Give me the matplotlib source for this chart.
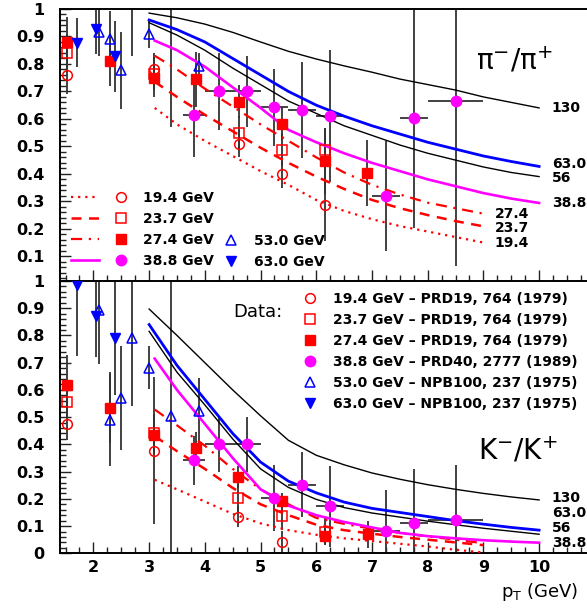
import matplotlib.pyplot as plt
from matplotlib.legend_handler import HandlerTuple
from matplotlib.ticker import MultipleLocator, FormatStrFormatter

plt.rcParams['font.family'] = 'DejaVu Sans'

# ---------------- pi-/pi+ data points ----------------
pi_x_194 = [1.53, 3.08, 4.61, 5.38, 6.15]
pi_y_194 = [0.76, 0.78, 0.51, 0.40, 0.285]
pi_e_194 = [0.07, 0.06, 0.05, 0.05, 0.13]

pi_x_237 = [1.53, 3.08, 4.61, 5.38, 6.15]
pi_y_237 = [0.84, 0.765, 0.55, 0.488, 0.486]
pi_e_237 = [0.07, 0.06, 0.06, 0.06, 0.08]

pi_x_274 = [1.53, 2.30, 3.08, 3.85, 4.61, 5.38, 6.15, 6.91]
pi_y_274 = [0.88, 0.81, 0.75, 0.745, 0.662, 0.582, 0.448, 0.403]
pi_e_274 = [0.09, 0.09, 0.07, 0.10, 0.06, 0.06, 0.12, 0.12]

pi_x_388 = [3.8, 4.25, 4.75, 5.25, 5.75, 6.25, 7.25, 7.75, 8.5]
pi_y_388 = [0.613, 0.70, 0.70, 0.642, 0.632, 0.612, 0.321, 0.602, 0.664]
pi_e_388 = [0.15, 0.14, 0.13, 0.14, 0.175, 0.24, 0.20, 0.40, 0.60]
pi_xe_388 = [0.2, 0.25, 0.25, 0.25, 0.25, 0.25, 0.25, 0.25, 0.5]

pi_x_530 = [2.10, 2.29, 2.50, 2.70, 3.0, 3.40, 3.89]
pi_y_530 = [0.918, 0.892, 0.777, 1.05, 0.909, 1.10, 0.791]
pi_e_530 = [0.09, 0.10, 0.14, 0.22, 0.05, 0.53, 0.05]

pi_x_630 = [1.70, 2.04, 2.39]
pi_y_630 = [0.878, 0.928, 0.828]
pi_e_630 = [0.09, 0.09, 0.13]

# ---------------- K-/K+ data points ----------------
k_x_194 = [1.53, 3.08, 4.60, 5.38]
k_y_194 = [0.475, 0.376, 0.135, 0.043]
k_e_194 = [0.06, 0.27, 0.04, 0.04]

k_x_237 = [1.53, 3.08, 4.60, 5.38, 6.15]
k_y_237 = [0.557, 0.44, 0.203, 0.137, 0.08]
k_e_237 = [0.06, 0.07, 0.05, 0.05, 0.05]

k_x_274 = [1.53, 2.30, 3.08, 3.85, 4.60, 5.38, 6.15, 6.92]
k_y_274 = [0.618, 0.534, 0.436, 0.387, 0.279, 0.193, 0.063, 0.07]
k_e_274 = [0.11, 0.13, 0.07, 0.06, 0.04, 0.03, 0.03, 0.05]

k_x_388 = [3.8, 4.25, 4.75, 5.25, 5.75, 6.25, 7.25, 7.75, 8.5]
k_y_388 = [0.341, 0.40, 0.40, 0.203, 0.252, 0.172, 0.082, 0.11, 0.123]
k_e_388 = [0.09, 0.10, 0.10, 0.12, 0.12, 0.15, 0.15, 0.20, 0.20]
k_xe_388 = [0.2, 0.25, 0.25, 0.25, 0.25, 0.25, 0.25, 0.25, 0.5]

k_x_530 = [2.10, 2.30, 2.50, 2.70, 3.0, 3.40, 3.89]
k_y_530 = [0.894, 0.489, 0.571, 0.792, 0.682, 0.504, 0.522]
k_e_530 = [0.20, 0.17, 0.19, 0.25, 0.08, 0.60, 0.12]

k_x_630 = [1.70, 2.04, 2.39]
k_y_630 = [0.985, 0.87, 0.79]
k_e_630 = [0.26, 0.15, 0.21]

# ---------------- model curves ----------------
cx_full = [3.0, 3.5, 4.0, 4.5, 5.0, 5.5, 6.0, 6.5, 7.0, 7.5, 8.0, 8.5, 9.0, 9.5, 10.0]
cx_mag = [3.1, 3.5, 4.0, 4.5, 5.0, 5.5, 6.0, 6.5, 7.0, 7.5, 8.0, 8.5, 9.0, 9.5, 10.0]
cx_red = [3.1, 3.5, 4.0, 4.5, 5.0, 5.5, 6.0, 6.5, 7.0, 7.5, 8.0, 8.5, 9.0]

pi_c_130 = [0.985, 0.968, 0.945, 0.915, 0.88, 0.846, 0.818, 0.793, 0.77, 0.745, 0.725, 0.705, 0.68, 0.66, 0.64]
pi_c_630 = [0.96, 0.925, 0.88, 0.82, 0.76, 0.70, 0.65, 0.61, 0.575, 0.545, 0.515, 0.49, 0.465, 0.445, 0.427]
pi_c_56 = [0.95, 0.905, 0.85, 0.785, 0.725, 0.665, 0.62, 0.575, 0.54, 0.505, 0.475, 0.45, 0.425, 0.405, 0.39]
pi_c_388 = [0.885, 0.85, 0.79, 0.715, 0.64, 0.56, 0.515, 0.475, 0.44, 0.41, 0.38, 0.355, 0.33, 0.31, 0.294]
pi_c_274 = [0.83, 0.78, 0.71, 0.645, 0.58, 0.52, 0.46, 0.405, 0.36, 0.325, 0.295, 0.275, 0.255]
pi_c_237 = [0.735, 0.68, 0.615, 0.555, 0.495, 0.44, 0.39, 0.345, 0.305, 0.275, 0.25, 0.228, 0.209]
pi_c_194 = [0.64, 0.58, 0.52, 0.465, 0.41, 0.36, 0.305, 0.265, 0.235, 0.21, 0.19, 0.17, 0.15]

k_c_130 = [0.897, 0.80, 0.70, 0.60, 0.505, 0.415, 0.36, 0.325, 0.295, 0.272, 0.252, 0.235, 0.22, 0.207, 0.196]
k_c_630 = [0.84, 0.69, 0.565, 0.44, 0.335, 0.265, 0.222, 0.188, 0.165, 0.15, 0.135, 0.12, 0.107, 0.095, 0.085]
k_c_56 = [0.815, 0.665, 0.545, 0.42, 0.31, 0.242, 0.198, 0.168, 0.148, 0.133, 0.118, 0.105, 0.092, 0.081, 0.07]
k_c_388 = [0.715, 0.60, 0.475, 0.35, 0.235, 0.175, 0.14, 0.115, 0.095, 0.075, 0.063, 0.055, 0.048, 0.043, 0.039]
k_c_274 = [0.528, 0.47, 0.395, 0.31, 0.235, 0.18, 0.13, 0.108, 0.09, 0.075, 0.062, 0.05, 0.037]
k_c_237 = [0.43, 0.375, 0.31, 0.24, 0.18, 0.14, 0.105, 0.085, 0.072, 0.06, 0.05, 0.04, 0.03]
k_c_194 = [0.27, 0.235, 0.19, 0.145, 0.11, 0.085, 0.068, 0.055, 0.045, 0.035, 0.025, 0.013, 0.003]

energies = ['19.4', '23.7', '27.4', '38.8', '53.0', '63.0']
refs = ['PRD19, 764 (1979)', 'PRD19, 764 (1979)', 'PRD19, 764 (1979)',
        'PRD40, 2777 (1989)', 'NPB100, 237 (1975)', 'NPB100, 237 (1975)']

# marker styles per energy
mstyle = [dict(marker='o', mfc='none', mec='red', ms=7, mew=1.1),
          dict(marker='s', mfc='none', mec='red', ms=6.5, mew=1.1),
          dict(marker='s', mfc='red', mec='red', ms=6.5),
          dict(marker='o', mfc='magenta', mec='magenta', ms=7.5),
          dict(marker='^', mfc='none', mec='blue', ms=7.5, mew=1.1),
          dict(marker='v', mfc='blue', mec='blue', ms=7.5)]

W, H = 587, 611
fig = plt.figure(figsize=(W / 100, H / 100), dpi=100)
ax1 = fig.add_axes([60 / W, (H - 281) / H, 1 - 60 / W, 272 / H])
ax2 = fig.add_axes([60 / W, (H - 553.3) / H, 1 - 60 / W, 272.3 / H])

ecol = '#333333'


def draw_points(ax, sets):
    handles = []
    for (x, y, ye, xe), st in zip(sets, mstyle):
        ax.errorbar(x, y, yerr=ye, xerr=xe, fmt='none', ecolor=ecol,
                    elinewidth=1.3, capsize=0, zorder=2)
        h, = ax.plot(x, y, ls='none', zorder=4, **st)
        handles.append(h)
    return handles


def draw_curves(ax, c194, c237, c274, c388, c56, c630, c130):
    l194, = ax.plot(cx_red, c194, color='red', lw=1.6, ls=(0, (1, 2.2)), zorder=3)
    l237, = ax.plot(cx_red, c237, color='red', lw=1.8, ls=(0, (4, 3)), zorder=3)
    l274, = ax.plot(cx_red, c274, color='red', lw=1.6, ls=(0, (5, 3, 1, 3)), zorder=3)
    l388, = ax.plot(cx_mag, c388, color='magenta', lw=1.9, zorder=3)
    ax.plot(cx_full, c56, color='black', lw=1.0, zorder=3)
    ax.plot(cx_full, c630, color='blue', lw=2.0, zorder=3)
    ax.plot(cx_full, c130, color='black', lw=1.0, zorder=3)
    return [l194, l237, l274, l388]


pi_sets = [(pi_x_194, pi_y_194, pi_e_194, None),
           (pi_x_237, pi_y_237, pi_e_237, None),
           (pi_x_274, pi_y_274, pi_e_274, None),
           (pi_x_388, pi_y_388, pi_e_388, pi_xe_388),
           (pi_x_530, pi_y_530, pi_e_530, None),
           (pi_x_630, pi_y_630, pi_e_630, None)]
k_sets = [(k_x_194, k_y_194, k_e_194, None),
          (k_x_237, k_y_237, k_e_237, None),
          (k_x_274, k_y_274, k_e_274, None),
          (k_x_388, k_y_388, k_e_388, k_xe_388),
          (k_x_530, k_y_530, k_e_530, None),
          (k_x_630, k_y_630, k_e_630, None)]

pi_lines = draw_curves(ax1, pi_c_194, pi_c_237, pi_c_274, pi_c_388,
                       pi_c_56, pi_c_630, pi_c_130)
pi_marks = draw_points(ax1, pi_sets)
draw_curves(ax2, k_c_194, k_c_237, k_c_274, k_c_388, k_c_56, k_c_630, k_c_130)
k_marks = draw_points(ax2, k_sets)

# axes cosmetics
for ax, ylo in ((ax1, 0.01), (ax2, 0.0)):
    ax.set_xlim(1.4, 10.86)
    ax.set_ylim(ylo, 1.0)
    ax.xaxis.set_major_locator(MultipleLocator(1))
    ax.xaxis.set_minor_locator(MultipleLocator(0.25))
    ax.yaxis.set_major_locator(MultipleLocator(0.1))
    ax.yaxis.set_minor_locator(MultipleLocator(0.02))
    ax.yaxis.set_major_formatter(FormatStrFormatter('%g'))
    ax.tick_params(which='both', direction='in', top=False, right=False,
                   width=1.0, color='#222222')
    ax.tick_params(which='major', length=8)
    ax.tick_params(which='minor', length=4.5)
    ax.tick_params(axis='y', which='major', pad=11, labelsize=11.5)
    ax.tick_params(axis='x', which='major', pad=5, labelsize=11.5)
    for lab in ax.get_xticklabels() + ax.get_yticklabels():
        lab.set_fontweight('bold')
    ax.spines['right'].set_visible(False)
    for s in ('left', 'top', 'bottom'):
        ax.spines[s].set_linewidth(1.4)
    ax.set_facecolor('none')
ax1.tick_params(axis='x', labelbottom=False)
ax1.spines['bottom'].set_visible(False)

ax2.set_xlabel(r'p$_{\mathrm{T}}$ (GeV)', fontsize=13, ha='right', x=0.983,
               labelpad=4)

# curve labels
lab_kw = dict(fontsize=10, fontweight='bold', va='center', ha='left')
for txt, yv in (('130', pi_c_130[-1]), ('63.0', pi_c_630[-1] + 0.01),
                ('56', pi_c_56[-1] - 0.004), ('38.8', pi_c_388[-1])):
    ax1.text(10.23, yv, txt, **lab_kw)
for txt, yv in (('27.4', pi_c_274[-1]), ('23.7', pi_c_237[-1] - 0.005),
                ('19.4', pi_c_194[-1])):
    ax1.text(9.2, yv, txt, **lab_kw)
for txt, yv in (('130', 0.204), ('63.0', 0.149), ('56', 0.093), ('38.8', 0.038)):
    ax2.text(10.23, yv, txt, **lab_kw)

ax1.text(0.862, 0.812, r'π$^{-}$/π$^{+}$', transform=ax1.transAxes,
         fontsize=20, ha='center', va='center')
ax2.text(0.868, 0.378, r'K$^{-}$/K$^{+}$', transform=ax2.transAxes,
         fontsize=20, ha='center', va='center')

# legends in the upper panel
leg1 = ax1.legend([(l, m) for l, m in zip(pi_lines, pi_marks[:4])],
                  [e + ' GeV' for e in energies[:4]],
                  handler_map={tuple: HandlerTuple(ndivide=None, pad=0.6)},
                  loc='upper left', bbox_to_anchor=(0.021, 0.332),
                  frameon=False, borderpad=0, borderaxespad=0,
                  handlelength=4.6, handletextpad=0.6, labelspacing=0.5,
                  prop=dict(size=10, weight='bold'))
ax1.add_artist(leg1)
ax1.legend(pi_marks[4:], [e + ' GeV' for e in energies[4:]],
           loc='upper left', bbox_to_anchor=(0.312, 0.172),
           frameon=False, borderpad=0, borderaxespad=0,
           handlelength=1.0, handletextpad=1.15, labelspacing=0.5,
           prop=dict(size=10, weight='bold'))

# data legend in the lower panel
ax2.legend(k_marks, [e + ' GeV \u2013 ' + r for e, r in zip(energies, refs)],
           loc='upper left', bbox_to_anchor=(0.462, 0.96),
           frameon=False, borderpad=0, borderaxespad=0,
           handlelength=1.0, handletextpad=1.1, labelspacing=0.5,
           prop=dict(size=10, weight='bold'))
ax2.text(0.328, 0.887, 'Data:', transform=ax2.transAxes, fontsize=13,
         va='center', ha='left')

plt.savefig('out.png', dpi=100)
